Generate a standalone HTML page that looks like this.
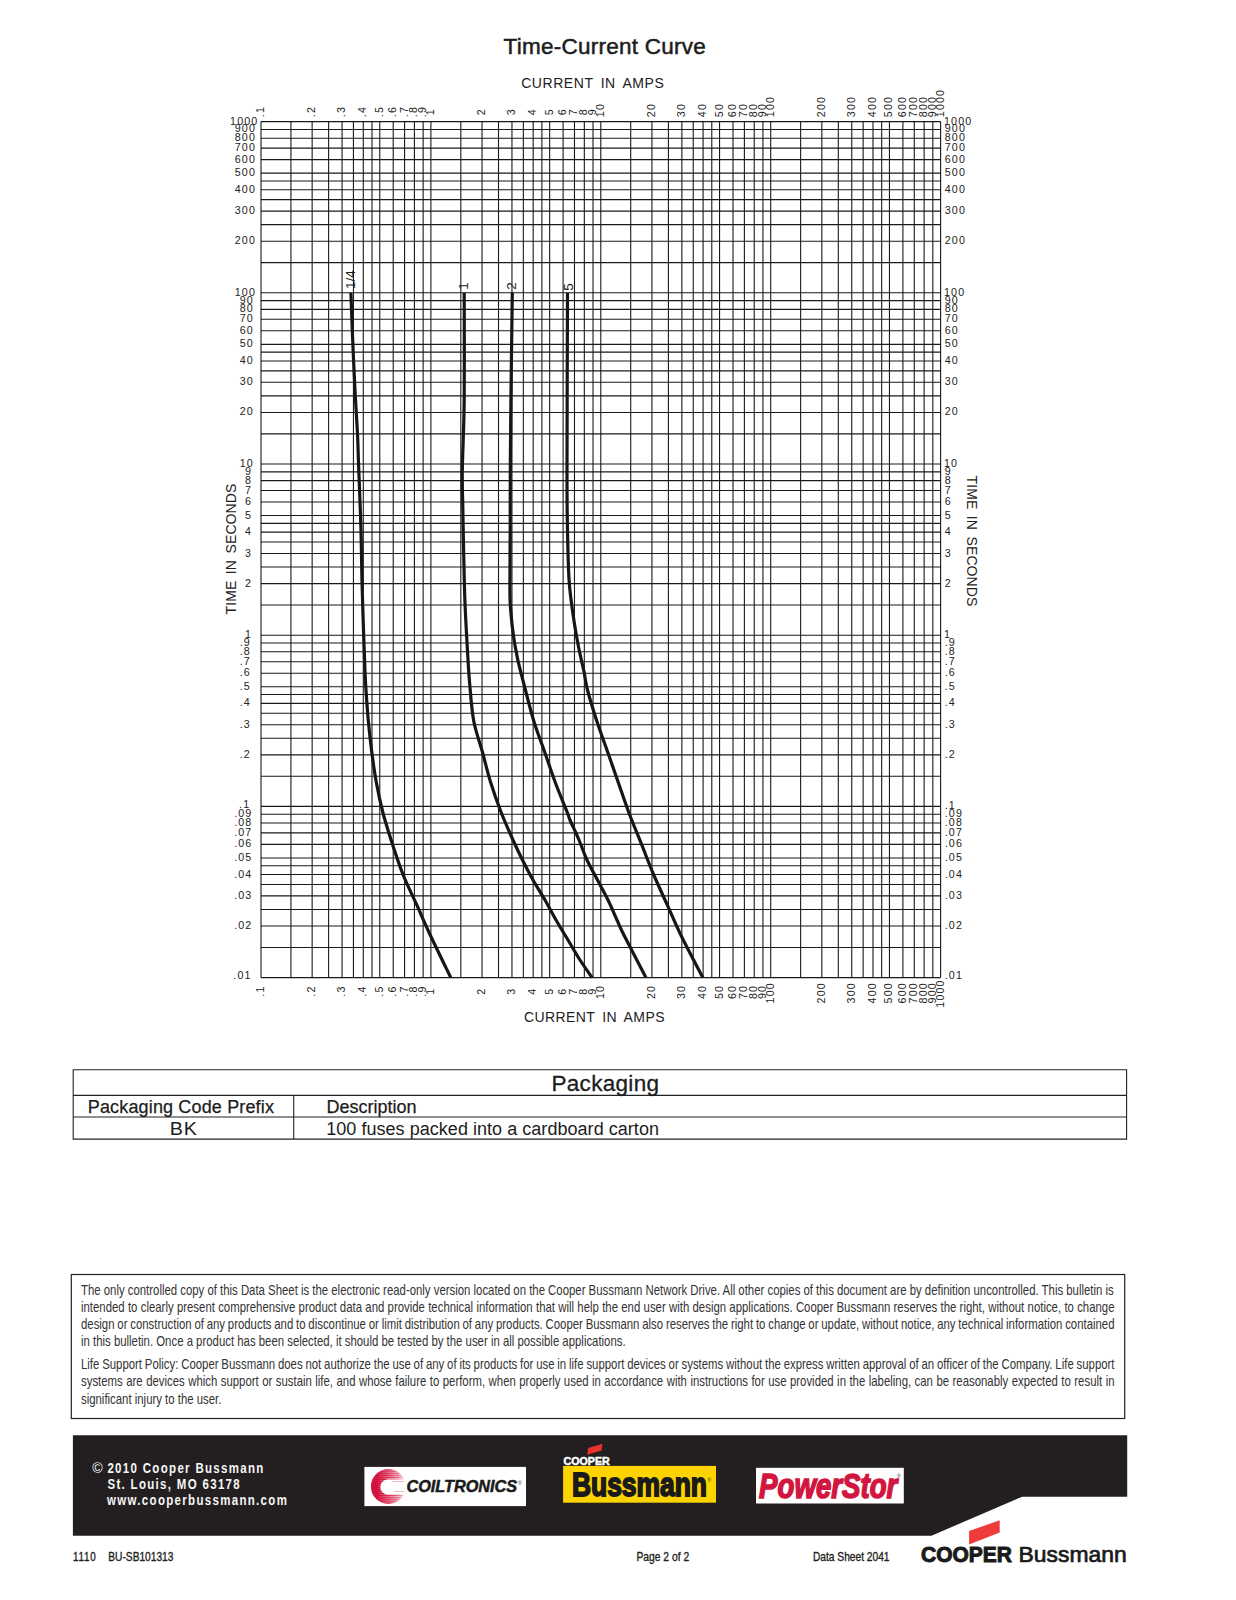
<!DOCTYPE html>
<html><head><meta charset="utf-8"><title>Time-Current Curve</title>
<style>
html,body{margin:0;padding:0;background:#fff;}
body{width:1236px;height:1600px;position:relative;overflow:hidden;font-family:"Liberation Sans",sans-serif;color:#231f20;}
.a{position:absolute;white-space:nowrap;line-height:1;}
svg.a{left:0;top:0;}
.dl{position:absolute;left:80.9px;font-size:14.8px;line-height:1;white-space:nowrap;transform-origin:0 0;transform:scaleX(0.769);color:#333;}
</style></head><body>
<svg class="a" width="1236" height="1600" viewBox="0 0 1236 1600">
<text x="503.5" y="54" font-family="Liberation Sans, sans-serif" font-size="22.5" letter-spacing="0.25" fill="#1c1c1c" stroke="#1c1c1c" stroke-width="0.5">Time-Current Curve</text>
<path d="M261.00 121.60V977.60M290.92 121.60V977.60M312.14 121.60V977.60M328.61 121.60V977.60M342.06 121.60V977.60M353.44 121.60V977.60M363.29 121.60V977.60M371.98 121.60V977.60M379.76 121.60V977.60M393.21 121.60V977.60M404.58 121.60V977.60M414.43 121.60V977.60M423.13 121.60V977.60M430.90 121.60V977.60M460.82 121.60V977.60M482.04 121.60V977.60M498.51 121.60V977.60M511.96 121.60V977.60M523.34 121.60V977.60M533.19 121.60V977.60M541.88 121.60V977.60M549.66 121.60V977.60M563.11 121.60V977.60M574.48 121.60V977.60M584.33 121.60V977.60M593.03 121.60V977.60M600.80 121.60V977.60M630.72 121.60V977.60M651.94 121.60V977.60M668.41 121.60V977.60M681.86 121.60V977.60M693.24 121.60V977.60M703.09 121.60V977.60M711.78 121.60V977.60M719.56 121.60V977.60M733.01 121.60V977.60M744.38 121.60V977.60M754.23 121.60V977.60M762.93 121.60V977.60M770.70 121.60V977.60M800.62 121.60V977.60M821.84 121.60V977.60M838.31 121.60V977.60M851.76 121.60V977.60M863.14 121.60V977.60M872.99 121.60V977.60M881.68 121.60V977.60M889.46 121.60V977.60M902.91 121.60V977.60M914.28 121.60V977.60M924.13 121.60V977.60M932.83 121.60V977.60M940.60 121.60V977.60M261.00 977.60H940.60M261.00 947.45H940.60M261.00 926.06H940.60M261.00 909.47H940.60M261.00 895.92H940.60M261.00 884.46H940.60M261.00 874.53H940.60M261.00 865.77H940.60M261.00 857.94H940.60M261.00 844.38H940.60M261.00 832.92H940.60M261.00 822.99H940.60M261.00 814.23H940.60M261.00 806.40H940.60M261.00 776.25H940.60M261.00 754.86H940.60M261.00 738.27H940.60M261.00 724.72H940.60M261.00 713.26H940.60M261.00 703.33H940.60M261.00 694.57H940.60M261.00 686.74H940.60M261.00 673.18H940.60M261.00 661.72H940.60M261.00 651.79H940.60M261.00 643.03H940.60M261.00 635.20H940.60M261.00 605.05H940.60M261.00 583.66H940.60M261.00 567.07H940.60M261.00 553.52H940.60M261.00 542.06H940.60M261.00 532.13H940.60M261.00 523.37H940.60M261.00 515.54H940.60M261.00 501.98H940.60M261.00 490.52H940.60M261.00 480.59H940.60M261.00 471.83H940.60M261.00 464.00H940.60M261.00 433.85H940.60M261.00 412.46H940.60M261.00 395.87H940.60M261.00 382.32H940.60M261.00 370.86H940.60M261.00 360.93H940.60M261.00 352.17H940.60M261.00 344.34H940.60M261.00 330.78H940.60M261.00 319.32H940.60M261.00 309.39H940.60M261.00 300.63H940.60M261.00 292.80H940.60M261.00 262.65H940.60M261.00 241.26H940.60M261.00 224.67H940.60M261.00 211.12H940.60M261.00 199.66H940.60M261.00 189.73H940.60M261.00 180.97H940.60M261.00 173.14H940.60M261.00 159.58H940.60M261.00 148.12H940.60M261.00 138.19H940.60M261.00 129.43H940.60M261.00 121.60H940.60" stroke="#1a1a1a" stroke-width="1.1" fill="none"/>
<path d="M350.90 292.80C351.13 299.07 351.83 318.67 352.30 330.40C352.77 342.13 353.20 352.25 353.70 363.20C354.20 374.15 354.67 384.37 355.30 396.10C355.93 407.83 356.98 422.95 357.50 433.60C358.02 444.25 358.10 451.68 358.40 460.00C358.70 468.32 358.87 471.77 359.30 483.50C359.73 495.23 360.57 514.77 361.00 530.40C361.43 546.03 361.52 561.67 361.90 577.30C362.28 592.93 362.78 608.55 363.30 624.20C363.82 639.85 364.55 660.23 365.00 671.20C365.45 682.17 365.45 681.75 366.00 690.00C366.55 698.25 367.35 710.45 368.30 720.70C369.25 730.95 370.37 741.25 371.70 751.50C373.03 761.75 374.42 771.95 376.30 782.20C378.18 792.45 380.33 802.75 383.00 813.00C385.67 823.25 388.97 833.45 392.30 843.70C395.63 853.95 398.90 864.25 403.00 874.50C407.10 884.75 412.28 894.95 416.90 905.20C421.52 915.45 425.07 923.95 430.70 936.00C436.33 948.05 447.37 970.58 450.70 977.50" stroke="#161616" stroke-width="3.2" fill="none" stroke-linecap="butt"/>
<path d="M464.20 292.80C464.20 310.80 464.52 371.10 464.20 400.80C463.88 430.50 462.53 453.32 462.30 471.00C462.07 488.68 462.57 493.08 462.80 506.90C463.03 520.72 463.35 538.25 463.70 553.90C464.05 569.55 464.30 585.17 464.90 600.80C465.50 616.43 466.52 634.02 467.30 647.70C468.08 661.38 468.53 670.73 469.60 682.90C470.67 695.07 471.58 709.27 473.70 720.70C475.82 732.13 479.48 741.25 482.30 751.50C485.12 761.75 487.42 771.95 490.60 782.20C493.78 792.45 497.67 803.37 501.40 813.00C505.13 822.63 509.48 832.17 513.00 840.00C516.52 847.83 519.17 853.33 522.50 860.00C525.83 866.67 529.25 873.33 533.00 880.00C536.75 886.67 541.17 893.33 545.00 900.00C548.83 906.67 552.17 913.33 556.00 920.00C559.83 926.67 564.00 933.33 568.00 940.00C572.00 946.67 576.00 953.75 580.00 960.00C584.00 966.25 590.00 974.58 592.00 977.50" stroke="#161616" stroke-width="3.2" fill="none" stroke-linecap="butt"/>
<path d="M512.30 292.80C512.07 310.80 511.23 371.10 510.90 400.80C510.57 430.50 510.42 449.40 510.30 471.00C510.18 492.60 510.27 510.33 510.20 530.40C510.13 550.47 509.78 577.72 509.90 591.40C510.02 605.08 510.30 605.07 510.90 612.50C511.50 619.93 512.37 628.18 513.50 636.00C514.63 643.82 516.02 651.58 517.70 659.40C519.38 667.22 520.93 672.68 523.60 682.90C526.27 693.12 530.22 709.27 533.70 720.70C537.18 732.13 540.92 741.25 544.50 751.50C548.08 761.75 551.37 771.95 555.20 782.20C559.03 792.45 565.03 806.70 567.50 813.00C569.97 819.30 568.08 815.50 570.00 820.00C571.92 824.50 576.17 833.33 579.00 840.00C581.83 846.67 583.92 853.33 587.00 860.00C590.08 866.67 594.00 873.33 597.50 880.00C601.00 886.67 604.75 893.33 608.00 900.00C611.25 906.67 614.27 914.00 617.00 920.00C619.73 926.00 619.58 926.42 624.40 936.00C629.22 945.58 642.32 970.58 645.90 977.50" stroke="#161616" stroke-width="3.2" fill="none" stroke-linecap="butt"/>
<path d="M567.50 292.80C567.42 322.50 567.00 431.40 567.00 471.00C567.00 510.60 567.18 512.68 567.50 530.40C567.82 548.12 568.28 565.57 568.90 577.30C569.52 589.03 570.27 592.98 571.20 600.80C572.13 608.62 573.25 616.38 574.50 624.20C575.75 632.02 577.13 639.87 578.70 647.70C580.27 655.53 582.43 664.15 583.90 671.20C585.37 678.25 585.37 681.75 587.50 690.00C589.63 698.25 593.37 710.45 596.70 720.70C600.03 730.95 603.92 741.25 607.50 751.50C611.08 761.75 614.62 771.95 618.20 782.20C621.78 792.45 625.15 802.75 629.00 813.00C632.85 823.25 637.20 833.45 641.30 843.70C645.40 853.95 649.25 864.25 653.60 874.50C657.95 884.75 662.78 894.95 667.40 905.20C672.02 915.45 675.40 923.95 681.30 936.00C687.20 948.05 699.22 970.58 702.80 977.50" stroke="#161616" stroke-width="3.2" fill="none" stroke-linecap="butt"/>
<g font-family="Liberation Sans, sans-serif" font-size="10.7" letter-spacing="1.15" fill="#222" text-anchor="end"><text x="258.45" y="124.60">1000</text><text x="256.05" y="132.43">900</text><text x="256.05" y="141.19">800</text><text x="256.05" y="151.12">700</text><text x="256.05" y="162.58">600</text><text x="256.05" y="176.14">500</text><text x="256.05" y="192.73">400</text><text x="256.05" y="214.12">300</text><text x="256.05" y="244.26">200</text><text x="256.05" y="295.80">100</text><text x="253.85" y="303.63">90</text><text x="253.85" y="312.39">80</text><text x="253.85" y="322.32">70</text><text x="253.85" y="333.78">60</text><text x="253.85" y="347.34">50</text><text x="253.85" y="363.93">40</text><text x="253.85" y="385.32">30</text><text x="253.85" y="415.46">20</text><text x="253.85" y="467.00">10</text><text x="252.05" y="474.83">9</text><text x="252.05" y="483.59">8</text><text x="252.05" y="493.52">7</text><text x="252.05" y="504.98">6</text><text x="252.05" y="518.54">5</text><text x="252.05" y="535.13">4</text><text x="252.05" y="556.52">3</text><text x="252.05" y="586.66">2</text><text x="252.10" y="638.20">1</text><text x="250.85" y="646.03">.9</text><text x="250.85" y="654.79">.8</text><text x="250.85" y="664.72">.7</text><text x="250.85" y="676.18">.6</text><text x="250.85" y="689.74">.5</text><text x="250.85" y="706.33">.4</text><text x="250.85" y="727.72">.3</text><text x="250.85" y="757.86">.2</text><text x="250.30" y="808.20">.1</text><text x="252.45" y="817.23">.09</text><text x="252.45" y="825.99">.08</text><text x="252.45" y="835.92">.07</text><text x="252.45" y="847.38">.06</text><text x="252.45" y="860.94">.05</text><text x="252.45" y="877.53">.04</text><text x="252.45" y="898.92">.03</text><text x="252.45" y="929.06">.02</text><text x="251.60" y="978.60">.01</text></g>
<g font-family="Liberation Sans, sans-serif" font-size="10.7" letter-spacing="1.15" fill="#222"><text x="944.00" y="124.60">1000</text><text x="944.75" y="132.43">900</text><text x="944.75" y="141.19">800</text><text x="944.75" y="151.12">700</text><text x="944.75" y="162.58">600</text><text x="944.75" y="176.14">500</text><text x="944.75" y="192.73">400</text><text x="944.75" y="214.12">300</text><text x="944.75" y="244.26">200</text><text x="944.00" y="295.80">100</text><text x="944.75" y="303.63">90</text><text x="944.75" y="312.39">80</text><text x="944.75" y="322.32">70</text><text x="944.75" y="333.78">60</text><text x="944.75" y="347.34">50</text><text x="944.75" y="363.93">40</text><text x="944.75" y="385.32">30</text><text x="944.75" y="415.46">20</text><text x="944.00" y="467.00">10</text><text x="944.75" y="474.83">9</text><text x="944.75" y="483.59">8</text><text x="944.75" y="493.52">7</text><text x="944.75" y="504.98">6</text><text x="944.75" y="518.54">5</text><text x="944.75" y="535.13">4</text><text x="944.75" y="556.52">3</text><text x="944.75" y="586.66">2</text><text x="944.00" y="638.20">1</text><text x="944.75" y="646.03">.9</text><text x="944.75" y="654.79">.8</text><text x="944.75" y="664.72">.7</text><text x="944.75" y="676.18">.6</text><text x="944.75" y="689.74">.5</text><text x="944.75" y="706.33">.4</text><text x="944.75" y="727.72">.3</text><text x="944.75" y="757.86">.2</text><text x="944.75" y="809.40">.1</text><text x="944.75" y="817.23">.09</text><text x="944.75" y="825.99">.08</text><text x="944.75" y="835.92">.07</text><text x="944.75" y="847.38">.06</text><text x="944.75" y="860.94">.05</text><text x="944.75" y="877.53">.04</text><text x="944.75" y="898.92">.03</text><text x="944.75" y="929.06">.02</text><text x="944.75" y="979.40">.01</text></g>
<g font-family="Liberation Sans, sans-serif" font-size="10.7" letter-spacing="1.15" fill="#222"><text transform="translate(264.00 117.20) rotate(-90)">.1</text><text transform="translate(315.14 117.20) rotate(-90)">.2</text><text transform="translate(345.06 117.20) rotate(-90)">.3</text><text transform="translate(366.29 117.20) rotate(-90)">.4</text><text transform="translate(382.76 117.20) rotate(-90)">.5</text><text transform="translate(396.21 117.20) rotate(-90)">.6</text><text transform="translate(407.58 117.20) rotate(-90)">.7</text><text transform="translate(417.43 117.20) rotate(-90)">.8</text><text transform="translate(426.13 117.20) rotate(-90)">.9</text><text transform="translate(433.90 115.30) rotate(-90)">1</text><text transform="translate(485.04 115.30) rotate(-90)">2</text><text transform="translate(514.96 115.30) rotate(-90)">3</text><text transform="translate(536.19 115.30) rotate(-90)">4</text><text transform="translate(552.66 115.30) rotate(-90)">5</text><text transform="translate(566.11 115.30) rotate(-90)">6</text><text transform="translate(577.48 115.30) rotate(-90)">7</text><text transform="translate(587.33 115.30) rotate(-90)">8</text><text transform="translate(596.03 115.30) rotate(-90)">9</text><text transform="translate(603.80 117.20) rotate(-90)">10</text><text transform="translate(654.94 117.20) rotate(-90)">20</text><text transform="translate(684.86 117.20) rotate(-90)">30</text><text transform="translate(706.09 117.20) rotate(-90)">40</text><text transform="translate(722.56 117.20) rotate(-90)">50</text><text transform="translate(736.01 117.20) rotate(-90)">60</text><text transform="translate(747.38 117.20) rotate(-90)">70</text><text transform="translate(757.23 117.20) rotate(-90)">80</text><text transform="translate(765.93 117.20) rotate(-90)">90</text><text transform="translate(773.70 117.20) rotate(-90)">100</text><text transform="translate(824.84 117.20) rotate(-90)">200</text><text transform="translate(854.76 117.20) rotate(-90)">300</text><text transform="translate(875.99 117.20) rotate(-90)">400</text><text transform="translate(892.46 117.20) rotate(-90)">500</text><text transform="translate(905.91 117.20) rotate(-90)">600</text><text transform="translate(917.28 117.20) rotate(-90)">700</text><text transform="translate(927.13 117.20) rotate(-90)">800</text><text transform="translate(935.83 117.20) rotate(-90)">900</text><text transform="translate(943.60 117.20) rotate(-90)">1000</text></g>
<g font-family="Liberation Sans, sans-serif" font-size="10.7" letter-spacing="1.15" fill="#222"><text transform="translate(264.00 991.10) rotate(-90)" text-anchor="middle">.1</text><text transform="translate(315.14 991.10) rotate(-90)" text-anchor="middle">.2</text><text transform="translate(345.06 991.10) rotate(-90)" text-anchor="middle">.3</text><text transform="translate(366.29 991.10) rotate(-90)" text-anchor="middle">.4</text><text transform="translate(382.76 991.10) rotate(-90)" text-anchor="middle">.5</text><text transform="translate(396.21 991.10) rotate(-90)" text-anchor="middle">.6</text><text transform="translate(407.58 991.10) rotate(-90)" text-anchor="middle">.7</text><text transform="translate(417.43 991.10) rotate(-90)" text-anchor="middle">.8</text><text transform="translate(426.13 991.10) rotate(-90)" text-anchor="middle">.9</text><text transform="translate(433.90 991.25) rotate(-90)" text-anchor="middle">1</text><text transform="translate(485.04 991.25) rotate(-90)" text-anchor="middle">2</text><text transform="translate(514.96 991.25) rotate(-90)" text-anchor="middle">3</text><text transform="translate(536.19 991.25) rotate(-90)" text-anchor="middle">4</text><text transform="translate(552.66 991.25) rotate(-90)" text-anchor="middle">5</text><text transform="translate(566.11 991.25) rotate(-90)" text-anchor="middle">6</text><text transform="translate(577.48 991.25) rotate(-90)" text-anchor="middle">7</text><text transform="translate(587.33 991.25) rotate(-90)" text-anchor="middle">8</text><text transform="translate(596.03 991.25) rotate(-90)" text-anchor="middle">9</text><text transform="translate(603.80 992.00) rotate(-90)" text-anchor="middle">10</text><text transform="translate(654.94 992.00) rotate(-90)" text-anchor="middle">20</text><text transform="translate(684.86 992.00) rotate(-90)" text-anchor="middle">30</text><text transform="translate(706.09 992.00) rotate(-90)" text-anchor="middle">40</text><text transform="translate(722.56 992.00) rotate(-90)" text-anchor="middle">50</text><text transform="translate(736.01 992.00) rotate(-90)" text-anchor="middle">60</text><text transform="translate(747.38 992.00) rotate(-90)" text-anchor="middle">70</text><text transform="translate(757.23 992.00) rotate(-90)" text-anchor="middle">80</text><text transform="translate(765.93 992.00) rotate(-90)" text-anchor="middle">90</text><text transform="translate(773.70 992.75) rotate(-90)" text-anchor="middle">100</text><text transform="translate(824.84 992.75) rotate(-90)" text-anchor="middle">200</text><text transform="translate(854.76 992.75) rotate(-90)" text-anchor="middle">300</text><text transform="translate(875.99 992.75) rotate(-90)" text-anchor="middle">400</text><text transform="translate(892.46 992.75) rotate(-90)" text-anchor="middle">500</text><text transform="translate(905.91 992.75) rotate(-90)" text-anchor="middle">600</text><text transform="translate(917.28 992.75) rotate(-90)" text-anchor="middle">700</text><text transform="translate(927.13 992.75) rotate(-90)" text-anchor="middle">800</text><text transform="translate(935.83 992.75) rotate(-90)" text-anchor="middle">900</text><text transform="translate(943.60 993.50) rotate(-90)" text-anchor="middle">1000</text></g>
<g font-family="Liberation Sans, sans-serif" font-size="13.5" fill="#1a1a1a"><text transform="translate(355.3 289) rotate(-90)">1/4</text><text transform="translate(468.1 289.8) rotate(-90)">1</text><text transform="translate(515.7 289.8) rotate(-90)">2</text><text transform="translate(572.5 290.8) rotate(-90)">5</text></g>
<g font-family="Liberation Sans, sans-serif" font-size="14" fill="#222"><text x="521.2" y="88" letter-spacing="0.55" word-spacing="3">CURRENT IN AMPS</text><text x="524" y="1021.5" letter-spacing="0.4" word-spacing="3">CURRENT IN AMPS</text><text transform="translate(236.2 614.5) rotate(-90)" letter-spacing="0.1" word-spacing="2.5">TIME IN SECONDS</text><text transform="translate(967.4 475.5) rotate(90)" letter-spacing="0.1" word-spacing="2.5">TIME IN SECONDS</text></g>
<!-- table -->
<g stroke="#222" stroke-width="1.1" fill="none">
<path d="M73.2 1069.7H1126.6V1139.1H73.2Z"/>
<path d="M73.2 1095.4H1126.6M73.2 1117H1126.6M293.7 1095.4V1139.1"/>
</g>
<g font-family="Liberation Sans, sans-serif" fill="#1c1c1c">
<text x="551.5" y="1091" font-size="22.5" letter-spacing="0.3" stroke="#1c1c1c" stroke-width="0.3">Packaging</text>
<text x="87.8" y="1113.3" font-size="18" letter-spacing="0.15" stroke="#1c1c1c" stroke-width="0.25">Packaging Code Prefix</text>
<text x="326.4" y="1113.2" font-size="18" stroke="#1c1c1c" stroke-width="0.25">Description</text>
<text x="169.8" y="1135.3" font-size="18" letter-spacing="0.6" transform="translate(169.8 0) scale(1.1 1) translate(-169.8 0)">BK</text>
<text x="326.2" y="1135.3" font-size="18" letter-spacing="0.04">100 fuses packed into a cardboard carton</text>
</g>
<!-- disclaimer box -->
<rect x="71.3" y="1274.5" width="1053.4" height="144" fill="none" stroke="#222" stroke-width="1.2"/>
<!-- footer band -->
<path d="M72.9 1435.3H1127.2V1496.7H1022.2L931.5 1535.7H72.9Z" fill="#231f20"/>
<!-- coiltronics -->
<rect x="364.4" y="1466.9" width="161.6" height="39.2" fill="#fff"/>
<defs><clipPath id="cc"><circle cx="388.3" cy="1486.5" r="17.4"/></clipPath>
<linearGradient id="cg" x1="370" x2="406" y1="0" y2="0" gradientUnits="userSpaceOnUse"><stop offset="0" stop-color="#d4123f"/><stop offset="0.5" stop-color="#d4123f"/><stop offset="0.78" stop-color="#d4123f" stop-opacity="0.75"/><stop offset="1" stop-color="#d4123f" stop-opacity="0.1"/></linearGradient>
<linearGradient id="sg" x1="376" x2="400" y1="0" y2="0" gradientUnits="userSpaceOnUse"><stop offset="0" stop-color="#fff" stop-opacity="0"/><stop offset="0.5" stop-color="#fff" stop-opacity="0.6"/><stop offset="1" stop-color="#fff" stop-opacity="0.9"/></linearGradient></defs>
<g clip-path="url(#cc)"><rect x="370" y="1468" width="37" height="38" fill="url(#cg)"/>
<path d="M378 1470.10H407M378 1472.15H407M378 1474.20H407M378 1476.25H407M378 1478.30H407M378 1480.35H407M378 1482.40H407M378 1484.45H407M378 1486.50H407M378 1488.55H407M378 1490.60H407M378 1492.65H407M378 1494.70H407M378 1496.75H407M378 1498.80H407M378 1500.85H407M378 1502.90H407" stroke="url(#sg)" stroke-width="0.9"/></g>
<circle cx="387.8" cy="1487" r="7.5" fill="#fff"/>
<rect x="387.8" y="1479.5" width="19" height="15" fill="#fff"/>
<path d="M392 1481.5H404M394 1491.5H404" stroke="#d4123f" stroke-opacity="0.35" stroke-width="0.9"/>
<text x="406.5" y="1492.3" font-family="Liberation Sans, sans-serif" font-size="16" font-weight="bold" font-style="italic" fill="#1a1a1a" stroke="#1a1a1a" stroke-width="0.5" transform="translate(406.5 0) scale(1.015 1) translate(-406.5 0)">COILTRONICS</text>
<text x="518" y="1485" font-family="Liberation Sans, sans-serif" font-size="5" fill="#333">®</text>
<!-- bussmann -->
<path d="M587.1 1454.7L588.2 1448L602.4 1443.7L601.6 1450.6Z" fill="#e8322b"/>
<text x="563.5" y="1465" font-family="Liberation Sans, sans-serif" font-size="11.5" font-weight="bold" fill="#fff" stroke="#fff" stroke-width="0.5" transform="translate(563.5 0) scale(0.93 1) translate(-563.5 0)">COOPER</text>
<rect x="563.1" y="1465.9" width="152.9" height="36.8" fill="#fdd300"/>
<text x="572" y="1496.2" font-family="Liberation Sans, sans-serif" font-size="33" font-weight="bold" fill="#1a1a1a" stroke="#1a1a1a" stroke-width="1.8" transform="translate(572 0) scale(0.8 1) translate(-572 0)">Bussmann</text>
<text x="707.5" y="1482" font-family="Liberation Sans, sans-serif" font-size="5" fill="#333">®</text>
<!-- powerstor -->
<rect x="756" y="1467.8" width="147.8" height="35.7" fill="#fff"/>
<text x="759" y="1498.4" font-family="Liberation Sans, sans-serif" font-size="35" font-weight="bold" font-style="italic" fill="#d2163f" stroke="#d2163f" stroke-width="1.6" transform="translate(759.5 0) scale(0.79 1) translate(-759.5 0)">PowerStor</text>
<text x="897" y="1478" font-family="Liberation Sans, sans-serif" font-size="5" fill="#333">®</text>
<!-- footer address -->
<g font-family="Liberation Sans, sans-serif" fill="#f6f6f6">
<text x="92.3" y="1473" font-size="14.2">©</text>
<g font-weight="bold" font-size="14" letter-spacing="1.62">
<text x="107.4" y="1472.9" transform="translate(107.4 0) scale(0.82 1) translate(-107.4 0)">2010 Cooper Bussmann</text>
<text x="107.4" y="1489.1" transform="translate(107.4 0) scale(0.82 1) translate(-107.4 0)">St. Louis, MO 63178</text>
<text x="107.0" y="1504.9" transform="translate(107.0 0) scale(0.82 1) translate(-107.0 0)">www.cooperbussmann.com</text>
</g></g>
<!-- cooper bussmann bottom logo -->
<path d="M969.1 1531.1L999.7 1520.2V1532.4L969.1 1544.4Z" fill="#ee3b3b"/>
<text x="921" y="1562.2" font-family="Liberation Sans, sans-serif" font-size="22" font-weight="bold" fill="#1a1a1a" stroke="#1a1a1a" stroke-width="1.0" transform="translate(921.5 0) scale(0.955 1) translate(-921.5 0)">COOPER</text>
<text x="1018.6" y="1562.2" font-family="Liberation Sans, sans-serif" font-size="22" fill="#1a1a1a" stroke="#1a1a1a" stroke-width="0.7" transform="translate(1018.6 0) scale(1.04 1) translate(-1018.6 0)">Bussmann</text>
<!-- bottom line -->
<g font-family="Liberation Sans, sans-serif" font-size="12" fill="#231f20" stroke="#231f20" stroke-width="0.35">
<text x="73" y="1560.6" letter-spacing="0.9" transform="translate(73 0) scale(0.82 1) translate(-73 0)">1110</text>
<text x="108.3" y="1560.6" transform="translate(108.3 0) scale(0.85 1) translate(-108.3 0)">BU-SB101313</text>
<text x="636.4" y="1560.6" transform="translate(636.4 0) scale(0.86 1) translate(-636.4 0)">Page 2 of 2</text>
<text x="813" y="1560.6" transform="translate(813 0) scale(0.85 1) translate(-813 0)">Data Sheet 2041</text>
</g>
</svg>
<div class="dl" style="top:1283.37px;word-spacing:-0.025px">The only controlled copy of this Data Sheet is the electronic read-only version located on the Cooper Bussmann Network Drive. All other copies of this document are by definition uncontrolled. This bulletin is</div>
<div class="dl" style="top:1300.37px;word-spacing:0.174px">intended to clearly present comprehensive product data and provide technical information that will help the end user with design applications. Cooper Bussmann reserves the right, without notice, to change</div>
<div class="dl" style="top:1317.37px;word-spacing:-0.467px">design or construction of any products and to discontinue or limit distribution of any products. Cooper Bussmann also reserves the right to change or update, without notice, any technical information contained</div>
<div class="dl" style="top:1334.37px;word-spacing:0.000px">in this bulletin. Once a product has been selected, it should be tested by the user in all possible applications.</div>
<div class="dl" style="top:1356.87px;word-spacing:-0.431px">Life Support Policy: Cooper Bussmann does not authorize the use of any of its products for use in life support devices or systems without the express written approval of an officer of the Company. Life support</div>
<div class="dl" style="top:1374.37px;word-spacing:0.411px">systems are devices which support or sustain life, and whose failure to perform, when properly used in accordance with instructions for use provided in the labeling, can be reasonably expected to result in</div>
<div class="dl" style="top:1392.17px;word-spacing:0.000px">significant injury to the user.</div>
</body></html>
